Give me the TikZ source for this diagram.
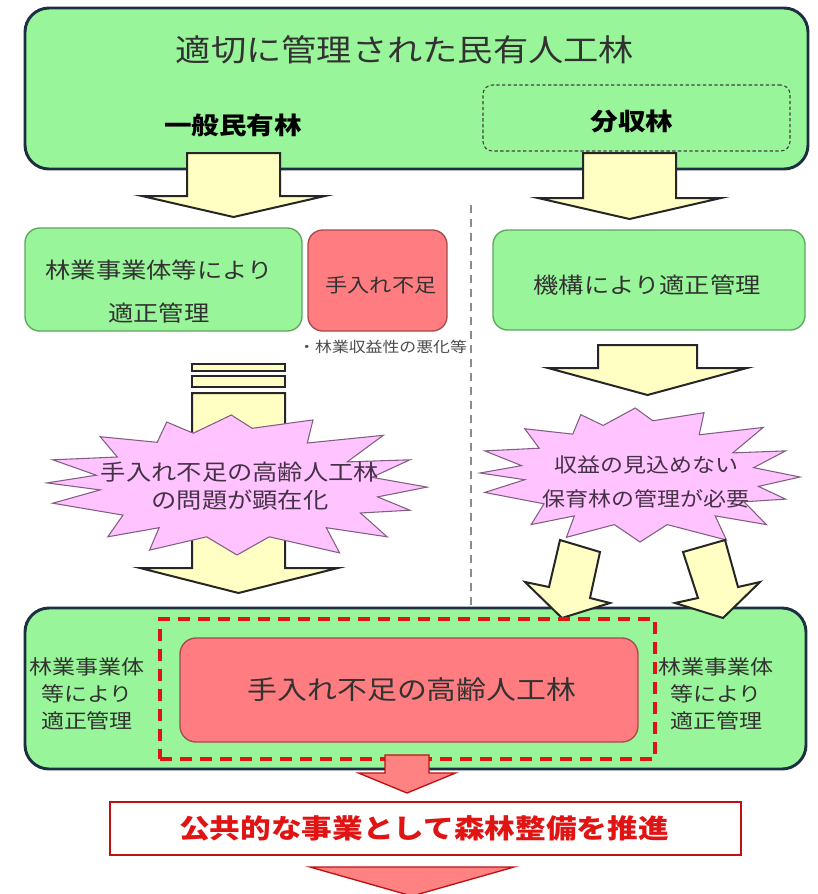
\documentclass[tikz,border=0pt]{standalone}
\usepackage{fontspec}
\setmainfont{Noto Sans CJK JP}[FakeStretch=1.15]
\definecolor{gfill}{RGB}{153,245,153}
\definecolor{navy}{RGB}{28,48,66}
\definecolor{gline}{RGB}{95,165,95}
\definecolor{rfill}{RGB}{255,125,128}
\definecolor{rline}{RGB}{165,75,75}
\definecolor{yfill}{RGB}{255,255,195}
\definecolor{pfill}{RGB}{255,196,255}
\definecolor{pline}{RGB}{130,95,130}
\definecolor{redd}{RGB}{225,20,20}
\definecolor{salmon}{RGB}{255,130,130}
\definecolor{txt}{RGB}{50,50,50}
\definecolor{ptxt}{RGB}{70,50,70}
\tikzset{
  bigbox/.style={draw=navy, line width=2.2pt, fill=gfill, rounded corners=18pt, inner sep=0pt},
  gbox/.style={draw=gline, line width=1pt, fill=gfill, rounded corners=11pt, inner sep=0pt},
  rbox/.style={draw=rline, line width=1pt, fill=rfill, rounded corners=11pt, inner sep=0pt},
  yarrow/.style={draw=black!85, line width=1.5pt, fill=yfill, line join=miter},
  burst/.style={draw=pline, line width=0.8pt, fill=pfill, line join=miter},
  rarrow/.style={draw=redd!85!black, line width=1pt, fill=salmon},
  lbl/.style={text=txt, align=center, inner sep=0pt},
}
\def\burstpts{(-0.72,-0.69) -- (-0.42,-0.61) -- (-0.37,-0.9) -- (-0.23,-0.74) -- (-0.03,-1.0) -- (0.08,-0.81) -- (0.40,-0.93) -- (0.37,-0.6) -- (0.77,-0.71) -- (0.58,-0.33) -- (0.91,-0.36) -- (0.71,-0.11) -- (1.0,0.03) -- (0.74,0.17) -- (0.91,0.36) -- (0.65,0.4) -- (0.79,0.74) -- (0.47,0.61) -- (0.54,0.97) -- (0.17,0.74) -- (0,1.0) -- (-0.16,0.74) -- (-0.46,0.93) -- (-0.41,0.61) -- (-0.68,0.74) -- (-0.6,0.43) -- (-0.97,0.26) -- (-0.72,0.07) -- (-1.0,-0.03) -- (-0.74,-0.14) -- (-0.97,-0.36) -- (-0.63,-0.4) -- cycle}
\begin{document}
\begin{tikzpicture}[x=0.75pt, y=-0.75pt]
\fill[white] (0,0) rectangle (818,894);
\useasboundingbox (0,0) rectangle (818,894);

% top box
\node[bigbox, minimum width=587.25pt, minimum height=120.75pt] (top) at (416.5,88.5) {};
\node[draw=black!75, dashed, dash pattern=on 2.5pt off 1.8pt, line width=0.8pt, rounded corners=7pt,
      minimum width=230.25pt, minimum height=49.5pt, inner sep=0pt] (bunbox) at (636.5,118) {};
\node[lbl, font=\fontsize{23}{27}\selectfont] (title) at (405,50) {適切に管理された民有人工林};
\node[lbl, font=\fontsize{18}{22}\selectfont\bfseries, text=black] (ippan) at (233,125) {一般民有林};
\node[lbl, font=\fontsize{18}{22}\selectfont\bfseries, text=black] (bunshu) at (632,121) {分収林};

% arrows from top box
\draw[yarrow] (187,153) -- (280,153) -- (280,196) -- (325,196) -- (233.5,217) -- (142,196) -- (187,196) -- cycle;
\draw[yarrow] (583,153) -- (676,153) -- (676,198) -- (721,198) -- (629.5,219) -- (538,198) -- (583,198) -- cycle;

% second row
\node[gbox, minimum width=207.75pt, minimum height=77.25pt] (lgbox) at (163.5,279.5) {};
\node[lbl, font=\fontsize{16.5}{32}\selectfont] (lgtext) at (159,291.5) {林業事業体等により\\適正管理};
\node[rbox, minimum width=104.25pt, minimum height=75.75pt] (rdbox) at (377.5,280.5) {};
\node[lbl, font=\fontsize{14.5}{18}\selectfont] (rdtext) at (381,285) {手入れ不足};
\node[gbox, minimum width=234pt, minimum height=75pt] (rgbox) at (649,280) {};
\node[lbl, font=\fontsize{16.5}{20}\selectfont] (rgtext) at (647,285) {機構により適正管理};
\node[lbl, anchor=west, font=\fontsize{11}{13}\selectfont, text=black!70] (note) at (298,347) {・林業収益性の悪化等};

% divider
\coordinate (dv1) at (471,205);
\coordinate (dv2) at (471,608);
\draw[black!45, line width=0.8pt, dash pattern=on 6pt off 4.5pt] (dv1) -- (dv2);

% left striped arrow
\draw[yarrow] (192,364) rectangle (285,371);
\draw[yarrow] (192,376) rectangle (285,387);
\draw[yarrow] (192,393) -- (285,393) -- (285,568) -- (338,568) -- (238.5,593) -- (140,568) -- (192,568) -- cycle;

% left burst
\begin{scope}[shift={(237,485)}, xscale=190, yscale=70]
\draw[burst] \burstpts;
\end{scope}
\node[lbl, text=ptxt, font=\fontsize{16.5}{21}\selectfont] (lburst) at (240,486) {手入れ不足の高齢人工林\\の問題が顕在化};

% right arrow
\draw[yarrow] (598,345) -- (697,345) -- (697,368) -- (747,368) -- (647.5,395) -- (548,368) -- (598,368) -- cycle;

% right burst
\begin{scope}[shift={(640,475)}, xscale=160, yscale=67]
\draw[burst] \burstpts;
\end{scope}
\node[lbl, text=ptxt, font=\fontsize{15}{26}\selectfont] (rburst) at (646,482) {収益の見込めない\\保育林の管理が必要};

% bottom box
\node[bigbox, minimum width=585.75pt, minimum height=120.75pt] (bot) at (415.5,688.5) {};

% diagonal arrows
\draw[yarrow] (560,540) -- (600,552) -- (590,598) -- (610,603) -- (562,618) -- (525,582) -- (549,587) -- cycle;
\draw[yarrow] (683,552) -- (725,540) -- (738,587) -- (760,582) -- (723,618) -- (675,603) -- (698,598) -- cycle;

% red dashed area and pink box
\node[draw=redd, line width=2.4pt, dash pattern=on 9pt off 6pt, minimum width=371.25pt, minimum height=105pt, inner sep=0pt] (reddash) at (407.5,689) {};
\node[rbox, rounded corners=12pt, minimum width=343.5pt, minimum height=78pt] (pink) at (409,690) {};
\node[lbl, font=\fontsize{19.5}{23}\selectfont] (pinktext) at (412,690) {手入れ不足の高齢人工林};
\node[lbl, font=\fontsize{15}{20}\selectfont] (lside) at (87,694) {林業事業体\\等により\\適正管理};
\node[lbl, font=\fontsize{15}{20}\selectfont] (rside) at (716,694) {林業事業体\\等により\\適正管理};

% red arrow down
\draw[rarrow] (385,755) -- (429,755) -- (429,773) -- (455.5,773) -- (407,793) -- (358.5,773) -- (385,773) -- cycle;

% conclusion box
\node[draw=redd!85!black, line width=1.5pt, fill=white, minimum width=473.25pt, minimum height=39.75pt, inner sep=0pt] (concl) at (425.5,828.5) {};
\node[lbl, text=redd, font=\fontsize{20}{24}\selectfont\bfseries] (concltext) at (424,828.5) {公共的な事業として森林整備を推進};

% final arrow head
\draw[rarrow] (310,867) -- (514,867) -- (412,896) -- cycle;
\end{tikzpicture}
\end{document}
